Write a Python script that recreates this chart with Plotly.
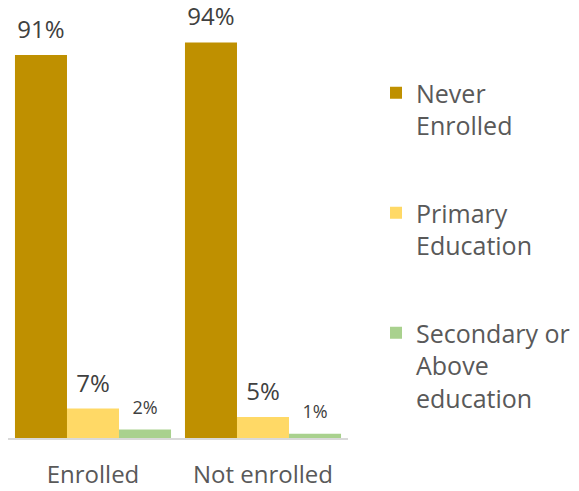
import plotly.graph_objects as go

categories = ["Enrolled", "Not enrolled"]
series_names = ["Never<br>Enrolled", "Primary<br>Education", "Secondary or<br>Above<br>education"]
never_enrolled = [91, 94]
primary_education = [7, 5]
secondary_above = [2, 1]
colors = ["#BF9000", "#FFD966", "#A9D18E"]
label_sizes = [24, 24, 18]

values = [never_enrolled, primary_education, secondary_above]

fig = go.Figure()
for i, (name, vals) in enumerate(zip(series_names, values)):
    fig.add_trace(go.Bar(
        x=categories, y=vals, name=name,
        marker=dict(color=colors[i], line=dict(width=0)),
        offsetgroup=str(i), legendgroup=str(i),
    ))
for i, vals in enumerate(values):
    fig.add_trace(go.Scatter(
        x=categories, y=vals, mode="markers+text",
        text=[f"{v}%" for v in vals],
        textposition="top center",
        textfont=dict(family="Open Sans", size=label_sizes[i], color="#404040"),
        marker=dict(size=16, color="rgba(0,0,0,0)"),
        offsetgroup=str(i), showlegend=False, hoverinfo="skip", cliponaxis=False,
    ))

fig.update_layout(
    width=579, height=491,
    margin=dict(l=8, r=231, t=2, b=53),
    paper_bgcolor="white", plot_bgcolor="white",
    barmode="group", scattermode="group", bargap=0.082, bargroupgap=0,
    font=dict(family="Open Sans", color="#595959", size=24),
    showlegend=True,
    legend=dict(
        xref="container", yref="container",
        x=376 / 579, y=1 - 70 / 491, xanchor="left", yanchor="top",
        font=dict(family="Open Sans", size=25, color="#595959"),
        valign="top", tracegroupgap=52, traceorder="grouped",
        bgcolor="rgba(0,0,0,0)", maxheight=480,
    ),
    xaxis=dict(
        showline=True, linecolor="#D9D9D9", linewidth=2,
        showgrid=False, ticks="", ticklabelstandoff=14,
        tickfont=dict(family="Open Sans", size=24, color="#595959"),
    ),
    yaxis=dict(
        range=[0, 103.6], visible=False, showgrid=False, zeroline=False,
    ),
)

fig.write_html("out.html")
